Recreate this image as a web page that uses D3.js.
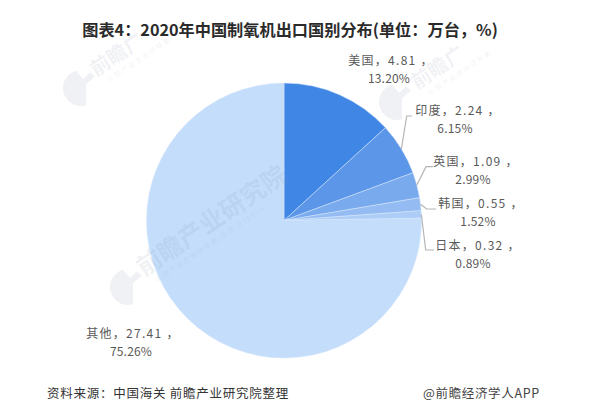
<!DOCTYPE html>
<html><head><meta charset="utf-8">
<script src="https://cdn.jsdelivr.net/npm/d3@7"></script>
<style>
html,body{margin:0;padding:0;background:#fff;}
svg{display:block;}
text{font-family:"Noto Sans CJK SC","Noto Sans",sans-serif;}
</style></head><body><div id="c"></div>
<script>
const categories=["美国","印度","英国","韩国","日本","其他"];
const values=[4.81,2.24,1.09,0.55,0.32,27.41];
const valueLabels=["4.81","2.24","1.09","0.55","0.32","27.41"];
const percents=["13.20%","6.15%","2.99%","1.52%","0.89%","75.26%"];
const colors=["#3f86e5","#5b96e9","#79aaee","#95bcf2","#adcdf7","#c3ddfb"];
const title="图表4：2020年中国制氧机出口国别分布(单位：万台，%)";
const source="资料来源：中国海关 前瞻产业研究院整理";
const credit="@前瞻经济学人APP";

const W=600,H=414,cx=284,cy=220.5,R=137.5;
const svg=d3.select("#c").append("svg").attr("width",W).attr("height",H);

// pie
const pie=d3.pie().sort(null).value(d=>d)(values);
const arc=d3.arc().innerRadius(0).outerRadius(R);
const g=svg.append("g").attr("transform",`translate(${cx},${cy})`);
g.selectAll("path").data(pie).join("path")
  .attr("d",arc)
  .attr("fill",(d,i)=>colors[i])
  .attr("stroke","#d6e6fb").attr("stroke-width",0.5);

// watermarks, over the pie
const marks=[
 {x:81,y:88,big:"前瞻广",sub:"中国产业咨询领导者",tx:15,ty:-11,size:20},
 {x:128,y:287,big:"前瞻产业研究院",sub:"中国产业咨询领导者(股票:839599)",tx:16,ty:-10,size:25},
 {x:397,y:102,big:"前瞻广",sub:"中国产业咨询领导者",tx:20,ty:-12,size:20}
];
const wm=svg.append("g").attr("class","watermarks");
const wg=wm.selectAll("g").data(marks).join("g").attr("transform",d=>`translate(${d.x},${d.y})`);
wg.append("path")
  .attr("d","M-5,-17.3 A18,18 0 1 0 5,17.3 L5,-4 L14,-11.3 A18,18 0 0 0 9,-15.6 L2,-9 Z")
  .attr("fill","#8a94a8").attr("fill-opacity",0.13);
wg.append("text").attr("transform",d=>`translate(${d.tx},${d.ty}) rotate(-34)`)
  .attr("font-size",d=>d.size).attr("font-weight",700).attr("fill","#8a94a8").attr("fill-opacity",0.12).text(d=>d.big);
wg.append("text").attr("transform",d=>`translate(${d.tx+13},${d.ty+6}) rotate(-34)`)
  .attr("font-size",7).attr("letter-spacing",1.4).attr("fill","#8a94a8").attr("fill-opacity",0.12).text(d=>d.sub);

// leader lines, anchored to each slice's mid-angle
const leaders=[null,
 {mid:[406.7,116],end:[412,116]},
 {mid:[426,166.7],end:[433,166.7]},
 {mid:[426.7,209],end:[436,209]},
 {mid:[425.7,250],end:[434,250]},
 null];
const line=d3.line();
svg.append("g").selectAll("path").data(pie.filter((d,i)=>leaders[i]))
  .join("path")
  .attr("d",d=>{
    const a=(d.startAngle+d.endAngle)/2;
    const s=[cx+R*Math.sin(a),cy-R*Math.cos(a)];
    const l=leaders[d.index];
    return line([s,l.mid,l.end]);
  })
  .attr("fill","none").attr("stroke","#b5b5b5").attr("stroke-width",1.2);

// labels: x of first line, x of second line, two baselines
const labelPos=[[391,389,65,83],[458,455,115,133],[476,473,166,184],[481,478,208,226],[478,473,250,268],[133,131,338,356]];
const lab=svg.append("g").attr("font-size",12).attr("fill","#595959").attr("text-anchor","middle");
categories.forEach((c,i)=>{
  const [x1,x2,y1,y2]=labelPos[i];
  lab.append("text").attr("x",x1).attr("y",y1).attr("letter-spacing",1.3).text(`${c}，${valueLabels[i]} ，`);
  lab.append("text").attr("x",x2).attr("y",y2).attr("letter-spacing",0.2).text(percents[i]);
});

svg.append("text").attr("x",290).attr("y",36).attr("text-anchor","middle")
  .attr("font-size",16.2).attr("font-weight",700).attr("fill","#2b2b2b").text(title);
svg.append("text").attr("x",47).attr("y",398).attr("font-size",12.5).attr("letter-spacing",0.75).attr("fill","#333").text(source);
svg.append("text").attr("x",423).attr("y",398).attr("font-size",12.5).attr("letter-spacing",0.65).attr("fill","#444").text(credit);
</script></body></html>
